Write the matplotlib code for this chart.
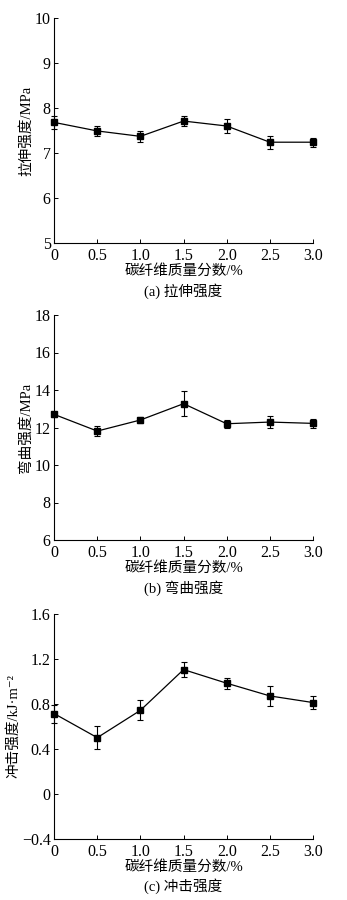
import numpy as np
import matplotlib
matplotlib.use('Agg')
import matplotlib.pyplot as plt

plt.rcParams['font.family'] = ['Liberation Serif', 'Noto Sans CJK SC', 'DejaVu Sans']
plt.rcParams['axes.unicode_minus'] = False

# carbon fibre mass fraction, %
cf = [0, 0.5, 1.0, 1.5, 2.0, 2.5, 3.0]
xticklabels = ['0', '0.5', '1.0', '1.5', '2.0', '2.5', '3.0']

tensile = [7.68, 7.49, 7.37, 7.71, 7.60, 7.24, 7.24]
tensile_err = [0.14, 0.12, 0.13, 0.12, 0.15, 0.14, 0.10]

flexural = [12.70, 11.81, 12.40, 13.27, 12.20, 12.29, 12.22]
flexural_err = [0.12, 0.28, 0.18, 0.68, 0.20, 0.32, 0.24]

impact = [0.713, 0.499, 0.742, 1.104, 0.983, 0.870, 0.811]
impact_err = [0.08, 0.10, 0.09, 0.07, 0.05, 0.09, 0.06]

panels = [
    (tensile, tensile_err, (5, 10), [5, 6, 7, 8, 9, 10],
     ['5', '6', '7', '8', '9', '10'], '拉伸强度/MPa', '(a) 拉伸强度', 0.730),
    (flexural, flexural_err, (6, 18), [6, 8, 10, 12, 14, 16, 18],
     ['6', '8', '10', '12', '14', '16', '18'], '弯曲强度/MPa', '(b) 弯曲强度', 0.400),
    (impact, impact_err, (-0.4, 1.6), [-0.4, 0, 0.4, 0.8, 1.2, 1.6],
     ['−0.4', '0', '0.4', '0.8', '1.2', '1.6'], '冲击强度/kJ·m⁻²', '(c) 冲击强度', 0.068),
]

fig = plt.figure(figsize=(3.47, 9.0), dpi=100)

for vals, errs, ylim, yticks, ylabels, ylab, caption, bottom in panels:
    ax = fig.add_axes([0.156, bottom, 0.746, 0.250])
    line, caps, bars = ax.errorbar(cf, vals, yerr=errs, color='black', marker='s',
                                   markersize=4.5, linewidth=0.9, elinewidth=0.8,
                                   capsize=2, capthick=0.8)
    line.set_clip_on(False)
    for c in caps:
        c.set_clip_on(False)
    for b in bars:
        b.set_clip_on(False)
    ax.set_xlim(0, 3.0)
    ax.set_ylim(*ylim)
    ax.set_xticks(cf)
    ax.set_xticklabels(xticklabels)
    ax.set_yticks(yticks)
    ax.set_yticklabels(ylabels)
    ax.spines['top'].set_visible(False)
    ax.spines['right'].set_visible(False)
    ax.spines['left'].set_linewidth(0.8)
    ax.spines['bottom'].set_linewidth(0.8)
    ax.tick_params(direction='in', length=3, width=0.7, labelsize=11.5)
    ax.tick_params(axis='x', pad=3.5)
    ax.tick_params(axis='y', pad=2.5)
    ax.set_xlabel('碳纤维质量分数/%', fontsize=10.5, labelpad=0)
    ax.set_ylabel(ylab, fontsize=10.5, labelpad=1)
    ax.text(0.5, -0.212, caption, transform=ax.transAxes, ha='center',
            va='center', fontsize=10.5)

fig.savefig('out.png', dpi=100)
